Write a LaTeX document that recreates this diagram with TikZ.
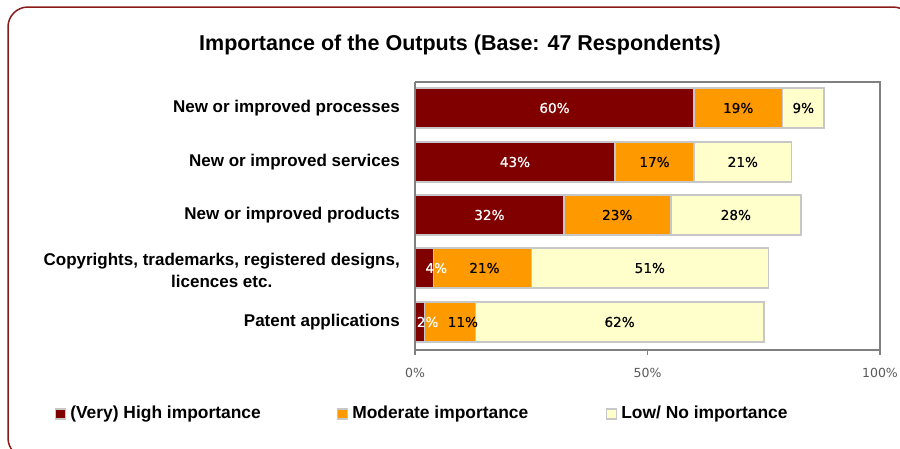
\documentclass[tikz,border=0pt]{standalone}
\usepackage{fontspec}
\setmainfont{Liberation Sans}
\newfontfamily\valuefont{DejaVu Sans}[FakeBold=0.6]
\newfontfamily\tickfont{DejaVu Sans}
\usetikzlibrary{positioning}

\definecolor{highred}{HTML}{800000}
\definecolor{modorange}{HTML}{FF9900}
\definecolor{lowyellow}{HTML}{FFFFCC}
\definecolor{framered}{HTML}{8B1A1A}

\begin{document}
\begin{tikzpicture}[
        x=1pt, y=-1pt,
        segment/.style={draw=black!22, line width=1.5pt},
        axisline/.style={draw=black!50, line width=1.2pt},
        category/.style={anchor=east, align=center, inner sep=0pt,
            font=\fontsize{17}{22}\selectfont\bfseries},
        value/.style={inner sep=0pt, font=\valuefont\fontsize{13.6}{15}\selectfont},
        ticklabel/.style={inner sep=0pt, text=black!65,
            font=\tickfont\fontsize{12.5}{14}\selectfont},
        keybox/.style={draw=black!22, line width=1.2pt, minimum size=10pt, inner sep=0pt},
        keytext/.style={inner sep=0pt, anchor=west, font=\fontsize{17.4}{20}\selectfont\bfseries}
    ]
        \useasboundingbox (0,0) rectangle (900,448);

        % Outer frame
        \begin{scope}
            \clip (0,0) rectangle (900,448);
            \draw[framered, line width=1.5pt, rounded corners=20pt] (8,7) rectangle (913,458);
        \end{scope}

        % Title
        \node[inner sep=0pt, font=\fontsize{21.5}{24}\selectfont\bfseries] (title) at (460,45)
            {Importance of the Outputs (Base: 47 Respondents)};

        % Plot area
        \draw[axisline] (415,82) -- (880,82) -- (880,355);
        \draw[axisline] (415,350) -- (880,350);
        \draw[axisline] (647.5,350) -- (647.5,355);

        % Bars: row / centre / high / moderate / low / label shifts
        \foreach \row/\yc/\a/\b/\c/\dh/\dm in {1/108/60/19/9/0/0, 2/162/43/17/21/0/0,
                3/215/32/23/28/0/0, 4/268/4/21/51/12/2, 5/322/2/11/62/8/13} {
            \pgfmathsetmacro\xa{415+4.65*\a}
            \pgfmathsetmacro\xb{\xa+4.65*\b}
            \pgfmathsetmacro\xc{\xb+4.65*\c}
            \draw[segment, fill=highred] (415,\yc-20) rectangle (\xa,\yc+20);
            \draw[segment, fill=modorange] (\xa,\yc-20) rectangle (\xb,\yc+20);
            \draw[segment, fill=lowyellow] (\xb,\yc-20) rectangle (\xc,\yc+20);
            \node[value, text=white] (high\row) at ({(415+\xa)/2+\dh},\yc) {\a\%};
            \node[value] (mod\row) at ({(\xa+\xb)/2+\dm},\yc) {\b\%};
            \node[value] (low\row) at ({(\xb+\xc)/2},\yc) {\c\%};
        }
        \draw[axisline] (415,82) -- (415,355);

        % Categories
        \node[category] (proc) at (400,108) {New or improved processes};
        \node[category] (serv) at (400,162) {New or improved services};
        \node[category] (prod) at (400,215) {New or improved products};
        \node[category] (copy) at (400,270) {Copyrights, trademarks, registered designs,\\licences etc.};
        \node[category] (pat) at (400,322) {Patent applications};

        % Axis labels
        \node[ticklabel] (t0) at (415,373) {0\%};
        \node[ticklabel] (t50) at (647.5,373) {50\%};
        \node[ticklabel] (t100) at (880,373) {100\%};

        % Legend
        \node[keybox, fill=highred] (khigh) at (60.5,414) {};
        \node[keytext, right=4pt of khigh] (lhigh) {(Very) High importance};
        \node[keybox, fill=modorange] (kmod) at (342.5,414) {};
        \node[keytext, right=4pt of kmod] (lmod) {Moderate importance};
        \node[keybox, fill=lowyellow] (klow) at (611.5,414) {};
        \node[keytext, right=4pt of klow] (llow) {Low/ No importance};

    \end{tikzpicture}
\end{document}
